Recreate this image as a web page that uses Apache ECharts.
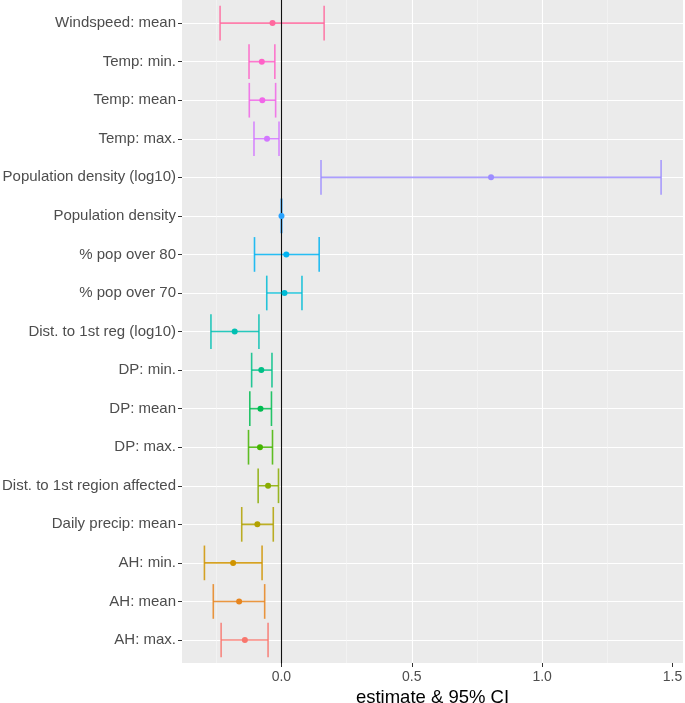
<!DOCTYPE html>
<html>
<head>
<meta charset="utf-8">
<script src="https://cdn.jsdelivr.net/npm/echarts@6/dist/echarts.min.js"></script>
<style>html,body{margin:0;padding:0;background:#fff}#c{width:685px;height:703px}</style>
</head>
<body>
<div id="c"></div>
<script>
// categories, bottom to top
const categories = ["AH: max.", "AH: mean", "AH: min.", "Daily precip: mean", "Dist. to 1st region affected", "DP: max.", "DP: mean", "DP: min.", "Dist. to 1st reg (log10)", "% pop over 70", "% pop over 80", "Population density", "Population density (log10)", "Temp: max.", "Temp: mean", "Temp: min.", "Windspeed: mean"];
const estimate = [-0.140, -0.162, -0.185, -0.092, -0.051, -0.082, -0.080, -0.077, -0.179, 0.012, 0.019, 0.0005, 0.804, -0.055, -0.073, -0.075, -0.034];
const lower    = [-0.231, -0.261, -0.295, -0.152, -0.089, -0.126, -0.121, -0.114, -0.270, -0.056, -0.103, -0.0005, 0.152, -0.105, -0.123, -0.124, -0.235];
const upper    = [-0.051, -0.064, -0.074, -0.031, -0.011, -0.034, -0.038, -0.036, -0.086, 0.079, 0.145, 0.0015, 1.456, -0.009, -0.022, -0.025, 0.164];
const xTicks = [0, 0.5, 1.0, 1.5];

// ggplot-like hue palette (HCL, l=65, c=100)
function hcl(h, c, l) {
  const hr = h * Math.PI / 180;
  const u = c * Math.cos(hr), v = c * Math.sin(hr);
  const Xn = 95.047, Yn = 100, Zn = 108.883;
  const Y = l > 8 ? Yn * Math.pow((l + 16) / 116, 3) : Yn * l / 903.3;
  const den = Xn + 15 * Yn + 3 * Zn;
  const un = 4 * Xn / den, vn = 9 * Yn / den;
  const up = u / (13 * l) + un, vp = v / (13 * l) + vn;
  const X = Y * 9 * up / (4 * vp);
  const Z = Y * (12 - 3 * up - 20 * vp) / (4 * vp);
  const x = X / 100, y = Y / 100, z = Z / 100;
  let r = 3.2404542 * x - 1.5371385 * y - 0.4985314 * z;
  let g = -0.9692660 * x + 1.8760108 * y + 0.0415560 * z;
  let b = 0.0556434 * x - 0.2040259 * y + 1.0572252 * z;
  const gam = t => { t = t <= 0.0031308 ? 12.92 * t : 1.055 * Math.pow(t, 1 / 2.4) - 0.055; return Math.round(Math.max(0, Math.min(1, t)) * 255); };
  return 'rgb(' + gam(r) + ',' + gam(g) + ',' + gam(b) + ')';
}
const n = categories.length;
const colors = categories.map((_, i) => hcl(15 + i * 360 / n, 100, 65));

const ciData = categories.map((_, i) => [lower[i], i, upper[i]]);
const ptData = categories.map((_, i) => [estimate[i], i]);

const FONT = '"Liberation Sans", Arial, sans-serif';
const X_MIN = -0.381, X_MAX = 1.540;

const chart = echarts.init(document.getElementById('c'), null, {renderer: 'canvas'});
chart.setOption({
  animation: false,
  backgroundColor: '#ffffff',
  grid: [
    {left: 182, right: 2, top: 0, bottom: 40, show: true, backgroundColor: '#EBEBEB', borderWidth: 0, z: -1,
     containLabel: false, outerBoundsMode: 'none'},
    {left: 182, right: 2, top: 23.1, bottom: 63, show: false, containLabel: false, outerBoundsMode: 'none'}
  ],
  xAxis: [
    {
      gridIndex: 0, type: 'value', min: X_MIN, max: X_MAX, splitNumber: 4, minInterval: 0.5, maxInterval: 0.5,
      name: 'estimate & 95% CI', nameLocation: 'middle', nameGap: 20,
      nameTextStyle: {fontFamily: FONT, fontSize: 18.5, color: '#000', verticalAlign: 'top'},
      axisLine: {show: false, onZero: false},
      axisTick: {show: true, length: 4, lineStyle: {color: '#333', width: 1}, customValues: xTicks},
      axisLabel: {fontFamily: FONT, fontSize: 14, color: '#4D4D4D', margin: 7, customValues: xTicks,
        formatter: v => v.toFixed(1)},
      splitLine: {show: true, showMinLine: false, showMaxLine: false, lineStyle: {color: '#FFFFFF', width: 1.1}},
      minorTick: {show: false, splitNumber: 2},
      minorSplitLine: {show: true, lineStyle: {color: '#F7F7F7', width: 0.6}}
    },
    {gridIndex: 1, type: 'value', min: X_MIN, max: X_MAX, show: false, axisLine: {onZero: false}}
  ],
  yAxis: [
    {
      gridIndex: 0, type: 'value', min: 0, max: 1, z: 3,
      axisLine: {show: true, onZero: true, lineStyle: {color: '#111', width: 1.1}},
      axisTick: {show: false}, axisLabel: {show: false}, splitLine: {show: false}
    },
    {
      gridIndex: 1, type: 'category', data: categories, boundaryGap: false, position: 'left',
      axisLine: {show: false, onZero: false},
      axisTick: {show: true, length: 4, interval: 0, lineStyle: {color: '#333', width: 1}},
      axisLabel: {interval: 0, fontFamily: FONT, fontSize: 15, color: '#4D4D4D', margin: 6},
      splitLine: {show: true, interval: 0, lineStyle: {color: '#FFFFFF', width: 1.1}}
    }
  ],
  series: [
    {
      type: 'custom', xAxisIndex: 1, yAxisIndex: 1, data: ciData, z: 3,
      encode: {x: [0, 2], y: 1},
      renderItem: function (params, api) {
        const i = api.value(1);
        const p1 = api.coord([api.value(0), i]);
        const p2 = api.coord([api.value(2), i]);
        const h = api.size([0, 1])[1] * 0.45;
        const style = {stroke: colors[params.dataIndex], lineWidth: 1.6, opacity: 0.85};
        return {
          type: 'group',
          children: [
            {type: 'line', shape: {x1: p1[0], y1: p1[1], x2: p2[0], y2: p2[1]}, style: style},
            {type: 'line', shape: {x1: p1[0], y1: p1[1] - h, x2: p1[0], y2: p1[1] + h}, style: style},
            {type: 'line', shape: {x1: p2[0], y1: p2[1] - h, x2: p2[0], y2: p2[1] + h}, style: style}
          ]
        };
      }
    },
    {
      type: 'scatter', xAxisIndex: 1, yAxisIndex: 1, data: ptData, z: 4,
      symbol: 'circle', symbolSize: 6,
      itemStyle: {color: p => colors[p.dataIndex], opacity: 1}
    }
  ]
});
</script>
</body>
</html>
